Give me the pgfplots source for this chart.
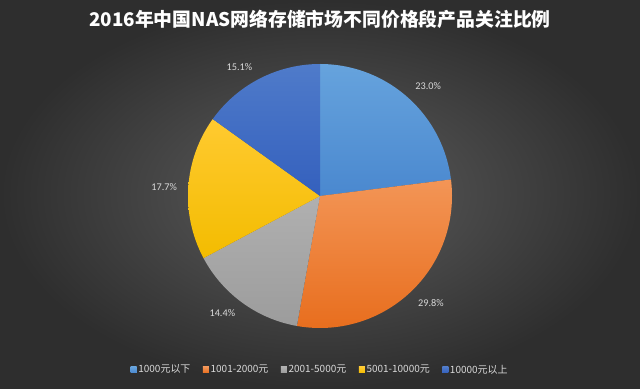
\documentclass[border=0pt]{standalone}
\usepackage{pgfplots}
\pgfplotsset{compat=1.18}
\usepackage{pgfplotstable}
\usepackage{fontspec}
\setmainfont{Carlito}
\newfontfamily\cjk{Noto Sans CJK SC}

\definecolor{bgin}{HTML}{5E5E5E}
\definecolor{bgout}{HTML}{2E2E2E}
\definecolor{cAt}{HTML}{66A3DD}\definecolor{cAb}{HTML}{4A88CF}
\definecolor{cBt}{HTML}{F39556}\definecolor{cBb}{HTML}{E86E1E}
\definecolor{cCt}{HTML}{B0B0B0}\definecolor{cCb}{HTML}{9C9C9C}
\definecolor{cDt}{HTML}{FFCA30}\definecolor{cDb}{HTML}{F3BC00}
\definecolor{cEt}{HTML}{4F7BCA}\definecolor{cEb}{HTML}{3460BD}
\definecolor{lA}{HTML}{5B9BD5}
\definecolor{lB}{HTML}{ED7D31}
\definecolor{lC}{HTML}{A5A5A5}
\definecolor{lD}{HTML}{FFC000}
\definecolor{lE}{HTML}{4472C4}
\definecolor{lbltext}{HTML}{D9D9D9}

\tikzset{lbl/.style={text=lbltext, font=\fontsize{7.3}{8}\selectfont}}

\pgfplotstableread{
label value
A 23.0
B 29.8
C 14.4
D 17.7
E 15.1
}\piedata

\begin{document}
\begin{tikzpicture}
\useasboundingbox (0,0) rectangle (16cm,9.7cm);
\shade[inner color=bgin, outer color=bgout] (0,0) rectangle (16cm,9.7cm);

\pgfplotstablegetelem{0}{value}\of\piedata \pgfmathsetmacro\vA{\pgfplotsretval}
\pgfplotstablegetelem{1}{value}\of\piedata \pgfmathsetmacro\vB{\pgfplotsretval}
\pgfplotstablegetelem{2}{value}\of\piedata \pgfmathsetmacro\vC{\pgfplotsretval}
\pgfplotstablegetelem{3}{value}\of\piedata \pgfmathsetmacro\vD{\pgfplotsretval}
\pgfplotstablegetelem{4}{value}\of\piedata \pgfmathsetmacro\vE{\pgfplotsretval}
\pgfmathsetmacro\aA{450}
\pgfmathsetmacro\aB{\aA-3.6*\vA}
\pgfmathsetmacro\aC{\aB-3.6*\vB}
\pgfmathsetmacro\aD{\aC-3.6*\vC}
\pgfmathsetmacro\aE{\aD-3.6*\vD}
\pgfmathsetmacro\aF{\aE-3.6*\vE}
\pgfmathsetmacro\sA{\aA-(\aA-\aB)/90}
\pgfmathsetmacro\sB{\aB-(\aB-\aC)/90}
\pgfmathsetmacro\sC{\aC-(\aC-\aD)/90}
\pgfmathsetmacro\sD{\aD-(\aD-\aE)/90}
\pgfmathsetmacro\sE{\aE-(\aE-\aF)/90}

\node[font=\cjk\bfseries\fontsize{13.4}{16}\selectfont, text=white] at (8cm,9.22cm)
  {2016年中国NAS网络存储市场不同价格段产品关注比例};

\begin{axis}[
  x=3.3cm, y=3.3cm,
  xmin=-1, xmax=1, ymin=-1, ymax=1,
  at={(4.7cm,1.5cm)}, anchor=south west,
  hide axis, clip=false,
  legend columns=5,
  legend style={at={(0.5,-0.159)}, anchor=center, draw=none, fill=none,
    text=lbltext, font=\cjk\fontsize{7.1}{8}\selectfont,
    nodes={inner xsep=1.2pt, inner ysep=1pt},
    /tikz/every even column/.append style={column sep=0.27cm}},
]
\addplot[draw=none, top color=cAt, bottom color=cAb,
  samples at={-1000,\aA,\sA,...,\aB,\aB,-1000},
  legend image code/.code={\fill[lA] (0cm,-0.075cm) rectangle (0.15cm,0.075cm);}]
  ({ifthenelse(x<(-500),0,cos(x))},{ifthenelse(x<(-500),0,sin(x))});
\addlegendentry{1000元以下}
\addplot[draw=none, top color=cBt, bottom color=cBb,
  samples at={-1000,\aB,\sB,...,\aC,\aC,-1000},
  legend image code/.code={\fill[lB] (0cm,-0.075cm) rectangle (0.15cm,0.075cm);}]
  ({ifthenelse(x<(-500),0,cos(x))},{ifthenelse(x<(-500),0,sin(x))});
\addlegendentry{1001-2000元}
\addplot[draw=none, top color=cCt, bottom color=cCb,
  samples at={-1000,\aC,\sC,...,\aD,\aD,-1000},
  legend image code/.code={\fill[lC] (0cm,-0.075cm) rectangle (0.15cm,0.075cm);}]
  ({ifthenelse(x<(-500),0,cos(x))},{ifthenelse(x<(-500),0,sin(x))});
\addlegendentry{2001-5000元}
\addplot[draw=none, top color=cDt, bottom color=cDb,
  samples at={-1000,\aD,\sD,...,\aE,\aE,-1000},
  legend image code/.code={\fill[lD] (0cm,-0.075cm) rectangle (0.15cm,0.075cm);}]
  ({ifthenelse(x<(-500),0,cos(x))},{ifthenelse(x<(-500),0,sin(x))});
\addlegendentry{5001-10000元}
\addplot[draw=none, top color=cEt, bottom color=cEb,
  samples at={-1000,\aE,\sE,...,\aF,\aF,-1000},
  legend image code/.code={\fill[lE] (0cm,-0.075cm) rectangle (0.15cm,0.075cm);}]
  ({ifthenelse(x<(-500),0,cos(x))},{ifthenelse(x<(-500),0,sin(x))});
\addlegendentry{10000元以上}

\node[lbl] at (axis cs:0.82,0.83) {23.0\%};
\node[lbl] at (axis cs:0.84,-0.81) {29.8\%};
\node[lbl] at (axis cs:-0.74,-0.89) {14.4\%};
\node[lbl] at (axis cs:-1.18,0.07) {17.7\%};
\node[lbl] at (axis cs:-0.61,0.98) {15.1\%};
\end{axis}
\end{tikzpicture}
\end{document}
